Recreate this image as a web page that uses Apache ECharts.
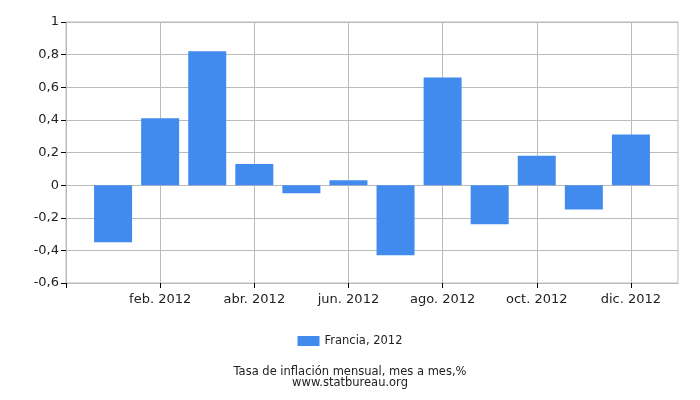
<!DOCTYPE html>
<html>
<head>
<meta charset="utf-8">
<script src="https://cdn.jsdelivr.net/npm/echarts@6/dist/echarts.min.js"></script>
<style>html,body{margin:0;padding:0;background:#fff;}#c{width:700px;height:400px;}</style>
</head>
<body>
<div id="c"></div>
<script>
const months = ['ene. 2012','feb. 2012','mar. 2012','abr. 2012','may. 2012','jun. 2012','jul. 2012','ago. 2012','sep. 2012','oct. 2012','nov. 2012','dic. 2012'];
const values = [-0.35, 0.41, 0.82, 0.13, -0.05, 0.03, -0.43, 0.66, -0.24, 0.18, -0.15, 0.31];
const seriesName = 'Francia, 2012';
const titleLines = ['Tasa de inflación mensual, mes a mes,%', 'www.statbureau.org'];

const chart = echarts.init(document.getElementById('c'), null, {renderer: 'canvas'});
const font = 'DejaVu Sans';
const pts = values.map((v, i) => [i + 1, v]);
chart.setOption({
  animation: false,
  backgroundColor: '#fff',
  grid: {left: 66, right: 22, top: 22, bottom: 117, show: true, borderColor: '#bbb', borderWidth: 1},
  legend: {
    bottom: 48, left: 'center', itemWidth: 22, itemHeight: 10, itemGap: 4, icon: 'rect',
    textStyle: {fontFamily: font, fontSize: 11.5, color: '#222'},
    data: [seriesName]
  },
  title: {
    text: titleLines.join('\n'), left: 'center', bottom: 5,
    textStyle: {fontFamily: font, fontSize: 11.5, fontWeight: 'normal', color: '#222', lineHeight: 11}
  },
  xAxis: {
    type: 'value', min: 0, max: 13, interval: 2,
    axisLine: {show: true, onZero: false, lineStyle: {color: '#bbb'}},
    axisTick: {show: true, length: 5, lineStyle: {color: '#000'}, customValues: [0, 2, 4, 6, 8, 10, 12]},
    axisLabel: {
      fontFamily: font, fontSize: 13, color: '#222', margin: 10,
      customValues: [2, 4, 6, 8, 10, 12],
      formatter: v => months[Math.round(v) - 1] || ''
    },
    splitLine: {show: true, lineStyle: {color: '#bbb'}}
  },
  yAxis: {
    type: 'value', min: -0.6, max: 1, interval: 0.2,
    axisLine: {show: true, onZero: false, lineStyle: {color: '#bbb'}},
    axisTick: {show: true, length: 5, lineStyle: {color: '#000'}},
    axisLabel: {
      fontFamily: font, fontSize: 13, color: '#222', margin: 7,
      formatter: v => { const r = Math.round(v * 10) / 10; return String(r).replace('.', ','); }
    },
    splitLine: {show: true, lineStyle: {color: '#bbb'}}
  },
  series: [{
    name: seriesName, type: 'bar', data: pts, barWidth: 38,
    itemStyle: {color: '#428bee'}
  }]
});
</script>
</body>
</html>
